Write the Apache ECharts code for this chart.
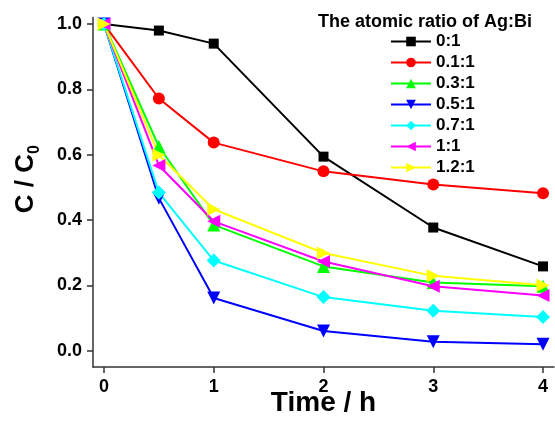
<!DOCTYPE html>
<html>
<head>
<meta charset="utf-8">
<script src="https://cdn.jsdelivr.net/npm/echarts@6/dist/echarts.min.js"></script>
<style>
  html, body { margin: 0; padding: 0; background: #fff; }
  #chart1 { width: 555px; height: 426px; }
</style>
</head>
<body>
<div id="chart1"></div>
<script>
// time points (h)
const times = [0, 0.5, 1, 2, 3, 4];

// C/C0 for each Ag:Bi ratio
const ratioNames = ['0:1', '0.1:1', '0.3:1', '0.5:1', '0.7:1', '1:1', '1.2:1'];
const r0   = [1.0, 0.98, 0.94, 0.594, 0.377, 0.258];
const r01  = [1.0, 0.772, 0.637, 0.549, 0.509, 0.482];
const r03  = [1.0, 0.625, 0.385, 0.258, 0.209, 0.197];
const r05  = [1.0, 0.467, 0.161, 0.06, 0.027, 0.02];
const r07  = [1.0, 0.484, 0.276, 0.164, 0.122, 0.103];
const r1   = [1.0, 0.567, 0.396, 0.273, 0.197, 0.169];
const r12  = [1.0, 0.599, 0.433, 0.299, 0.229, 0.2];

const xTicks = [0, 1, 2, 3, 4];
const yTicks = [0, 0.2, 0.4, 0.6, 0.8, 1.0];

const font = "'Liberation Sans', Arial, sans-serif";

// colour, symbol, size, rotate
const styles = [
  ['#000000', 'rect', 10, 0],
  ['#ff0000', 'circle', 12, 0],
  ['#00ff00', 'triangle', 13, 0],
  ['#0000ff', 'triangle', 13, 180],
  ['#00ffff', 'diamond', 14, 0],
  ['#ff00ff', 'triangle', 13, 90],
  ['#ffff00', 'triangle', 13, -90]
];
const allData = [r0, r01, r03, r05, r07, r1, r12];

const seriesData = allData.map((vals, i) => ({
  name: ratioNames[i],
  type: 'line',
  symbol: styles[i][1],
  symbolSize: styles[i][2],
  symbolRotate: styles[i][3],
  itemStyle: { color: styles[i][0] },
  lineStyle: { color: styles[i][0], width: 2 },
  emphasis: { disabled: true },
  data: vals.map((v, j) => [times[j], v])
}));

const echart1 = echarts.init(document.getElementById('chart1'), null, { renderer: 'canvas' });

const option = {
  backgroundColor: '#fff',
  animation: false,
  textStyle: { fontFamily: font },
  title: {
    text: 'The atomic ratio of Ag:Bi',
    right: 18,
    top: 8,
    textStyle: { fontFamily: font, fontSize: 18, fontWeight: 'bold', color: '#000' }
  },
  legend: {
    data: ratioNames,
    orient: 'vertical',
    left: 385,
    top: 28,
    itemWidth: 40,
    itemHeight: 12,
    itemGap: 4,
    textStyle: { fontFamily: font, fontSize: 17, fontWeight: 'bold', color: '#000' }
  },
  grid: { left: 93, right: 1, top: 17.5, bottom: 59, containLabel: false, outerBoundsMode: 'none' },
  xAxis: {
    type: 'value',
    min: -0.1,
    max: 4.1,
    name: 'Time / h',
    nameLocation: 'middle',
    nameGap: 22,
    nameMoveOverlap: false,
    nameTextStyle: { fontFamily: font, fontSize: 28, fontWeight: 'bold', color: '#000' },
    splitLine: { show: false },
    axisLine: { onZero: false, lineStyle: { color: '#333', width: 1.5 } },
    axisTick: { inside: false, length: 6, customValues: xTicks, lineStyle: { color: '#333', width: 1.5 } },
    axisLabel: { customValues: xTicks, margin: 11, fontFamily: font, fontSize: 18, fontWeight: 'bold', color: '#000' }
  },
  yAxis: {
    type: 'value',
    min: -0.05,
    max: 1.02,
    name: 'C / C{sub|0}',
    nameLocation: 'middle',
    nameRotate: 90,
    nameGap: 50,
    nameMoveOverlap: false,
    nameTextStyle: {
      fontFamily: font, fontSize: 26, fontWeight: 'bold', color: '#000',
      padding: [0, 0, 0, 26],
      lineHeight: 34,
      rich: {
        sub: { fontFamily: font, fontSize: 16, fontWeight: 'bold', color: '#000', verticalAlign: 'bottom', lineHeight: 14 }
      }
    },
    splitLine: { show: false },
    axisLine: { show: true, onZero: false, lineStyle: { color: '#333', width: 1.5 } },
    axisTick: { show: true, inside: false, length: 6, customValues: yTicks, lineStyle: { color: '#333', width: 1.5 } },
    axisLabel: {
      customValues: yTicks, margin: 11, fontFamily: font, fontSize: 18, fontWeight: 'bold', color: '#000',
      formatter: v => v.toFixed(1)
    }
  },
  series: seriesData
};

echart1.setOption(option);
</script>
</body>
</html>
